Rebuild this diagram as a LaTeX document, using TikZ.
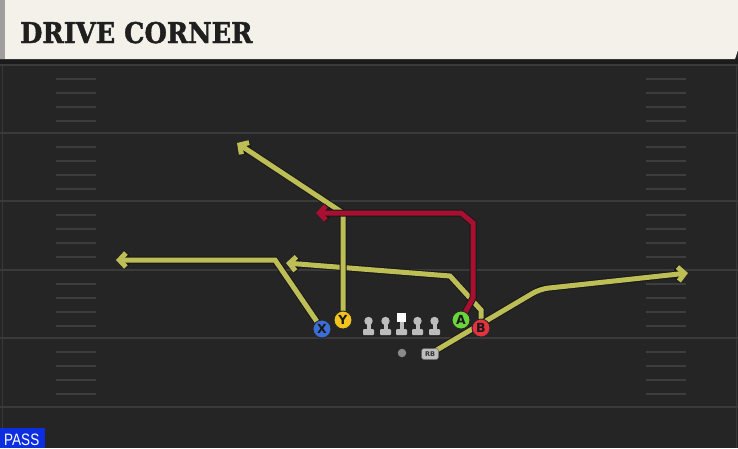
\documentclass[tikz,border=0pt]{standalone}
\usepackage{fontspec}
\setmainfont{DejaVu Sans}
\newfontfamily\titlefont{DejaVu Serif}[BoldFeatures={FakeBold=1.6}]
\newfontfamily\passfont{Liberation Sans}
\usetikzlibrary{arrows.meta}
\pgfdeclarelayer{fieldlayer}
\pgfdeclarelayer{routelayer}
\pgfsetlayers{fieldlayer,routelayer,main}
\definecolor{fieldbg}{HTML}{252525}
\definecolor{topband}{HTML}{1B1B1B}
\definecolor{yardline}{HTML}{3A3A3A}
\definecolor{hashc}{HTML}{3D3D3D}
\definecolor{cream}{HTML}{F4F1EA}
\definecolor{creamedge}{HTML}{9E9E9E}
\definecolor{routey}{HTML}{BEBE57}
\definecolor{router}{HTML}{A80F30}
\definecolor{px}{HTML}{3C6ED8}
\definecolor{py}{HTML}{F2C21E}
\definecolor{pa}{HTML}{6BD43C}
\definecolor{pb}{HTML}{E2333F}
\definecolor{linec}{HTML}{BDBDBD}
\definecolor{qbc}{HTML}{8A8A8A}
\definecolor{passblue}{HTML}{0C2EE0}
\newcommand{\drawroute}[2]{%
  \draw[routeout] #2;
  \draw[routecore,#1] #2;}
\begin{document}
\begin{tikzpicture}[x=1pt,y=-1pt,
  player/.style={circle,draw=black!85,line width=0.9pt,minimum size=18pt,inner sep=0pt,
    font=\bfseries\fontsize{12.5}{12.5}\selectfont,text=black!90},
  routeout/.style={draw=black!90,line width=7pt,-{Straight Barb[length=6.5pt,width=14pt]}},
  routecore/.style={line width=5pt,-{Straight Barb[length=6.5pt,width=14pt]}},
  yardstyle/.style={draw=yardline,line width=2pt},
  hashstyle/.style={draw=hashc,line width=2pt},
  lineman/.pic={
    \fill[linec] (0,-5) circle (4.2);
    \fill[linec] (-2,-4) rectangle (2,4);
    \fill[linec,rounded corners=1pt] (-5.5,3) rectangle (5.5,9);
  },
  centerman/.pic={
    \fill[linec] (-2,-4) rectangle (2,4);
    \fill[linec,rounded corners=1pt] (-5.5,3) rectangle (5.5,9);
    \fill[white] (-4.5,-13) rectangle (4.5,-4);
  }]
\useasboundingbox (0,0) rectangle (738,448);

% ---------- field ----------
\begin{pgfonlayer}{fieldlayer}
\fill[fieldbg] (0,0) rectangle (738,448);
\fill[topband] (0,58) rectangle (738,64);
\draw[draw=black!78!white,line width=1pt] (2,64) -- (2,448);
\draw[draw=black!78!white,line width=1pt] (736,64) -- (736,448);
\foreach \yy in {65,133,201,270,338,407}{
  \draw[yardstyle] (0,\yy) -- (738,\yy);
}
\foreach \yy in {65,133,201,270,338}{
  \foreach \dd in {14,27.5,41.5,55.5}{
    \draw[hashstyle] (56,\yy+\dd) -- (96,\yy+\dd);
    \draw[hashstyle] (646,\yy+\dd) -- (686,\yy+\dd);
  }
}
% title bar
\fill[cream] (0,0) -- (738,0) -- (738,50) -- (735,59) -- (0,59) -- cycle;
\fill[creamedge] (0,0) rectangle (5,59);
\end{pgfonlayer}

\node[anchor=base west,inner sep=0pt,font=\titlefont\bfseries\fontsize{28.5}{28.5}\selectfont,text=black!88]
  (title) at (20,43) {\scalebox{0.9}[1]{DRIVE CORNER}};

% ---------- players ----------
\node[player,fill=px] (X) at (322,329) {X};
\node[player,fill=py] (Y) at (343,320) {Y};
\node[player,fill=pa] (A) at (461,320) {A};
\node[player,fill=pb] (B) at (481,328) {B};
\pic at (368.5,326) {lineman};
\pic at (385.5,326) {lineman};
\pic at (401.5,326) {centerman};
\pic at (417.5,326) {lineman};
\pic at (434.5,326) {lineman};
\node[circle,fill=qbc,minimum size=8.5pt,inner sep=0pt] (QB) at (402,353) {};
\node[rounded corners=2.5pt,fill=linec,draw=black!60,line width=0.5pt,minimum width=17pt,minimum height=11pt,inner sep=0pt,
  font=\bfseries\fontsize{6.5}{6.5}\selectfont,text=black!80] (RB) at (430,354) {RB};

% ---------- route ends ----------
\coordinate (xbend) at (275,260);
\coordinate (xend) at (116,260);
\coordinate (ybend) at (343,213);
\coordinate (yend) at (237,143);
\coordinate (ab1) at (473,298);
\coordinate (ab2) at (473,223);
\coordinate (ab3) at (461,213);
\coordinate (aend) at (316,213);
\coordinate (bb1) at (481,310);
\coordinate (bb2) at (450,276);
\coordinate (bend) at (286,263);
\coordinate (rbb) at (540,289);
\coordinate (rbend) at (688,273);

\begin{pgfonlayer}{routelayer}
\drawroute{routey}{(X.center) -- (xbend) -- (xend)}
\drawroute{routey}{(B.center) -- (bb1) -- (bb2) -- (bend)}
\drawroute{routey}{(Y.center) -- (ybend) -- (yend)}
\drawroute{routey,rounded corners=8pt}{(RB.center) -- (rbb) -- (rbend)}
\drawroute{router}{(A.center) -- (ab1) -- (ab2) -- (ab3) -- (aend)}
\end{pgfonlayer}

% ---------- PASS tag ----------
\fill[passblue] (0,428) rectangle (45,448);
\node[anchor=base west,inner sep=0pt,text=white,font=\passfont\fontsize{16.5}{16.5}\selectfont]
  (pass) at (4,445.5) {\scalebox{0.82}[1]{PASS}};
\end{tikzpicture}
\end{document}
